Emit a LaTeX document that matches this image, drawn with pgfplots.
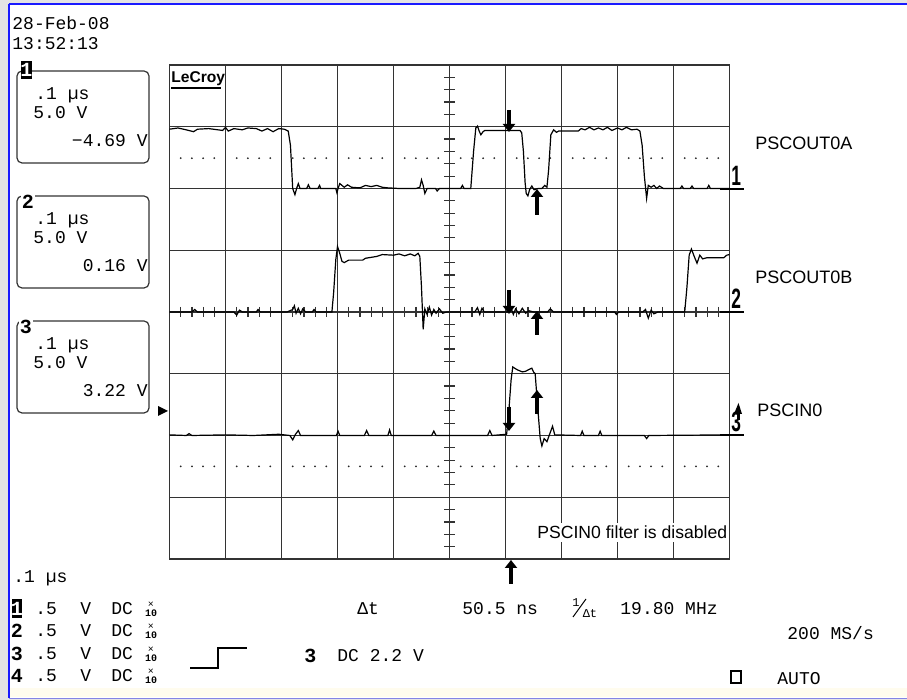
\documentclass[border=0pt]{standalone}
\usepackage{fontspec}
\usepackage{graphicx}
\usepackage{pgfplots}
\usepackage{pgfplotstable}
\pgfplotsset{compat=1.18}
\usetikzlibrary{arrows.meta}
\setmainfont{Liberation Mono}
\newfontfamily\sansf{Liberation Sans}
\definecolor{framegray}{HTML}{E4E4E4}
\definecolor{frameblue}{HTML}{1A1AFF}
\definecolor{botblue}{HTML}{8484E6}
\definecolor{cream}{HTML}{FFFCEE}
\definecolor{gridc}{HTML}{333333}

\pgfplotstableread{
x y
0 6.96
0.15 6.98
0.3 6.95
0.43 6.92
0.5 6.96
0.7 6.97
0.95 6.94
1.0 6.99
1.05 6.93
1.15 6.97
1.3 6.95
1.4 6.98
1.55 6.97
1.65 6.93
1.75 6.97
1.85 6.92
1.95 6.97
2.05 6.96
2.12 6.93
2.16 6.7
2.2 6.0
2.24 5.9
2.27 6.0
2.3 6.08
2.33 6.0
2.45 6.0
2.48 6.06
2.51 6.0
2.65 6.0
2.68 6.05
2.7 6.0
2.97 6.0
2.99 5.93
3.01 6.0
3.04 6.08
3.08 6.05
3.12 6.02
3.18 6.06
3.25 6.02
3.4 6.01
3.5 6.05
3.6 6.03
3.7 6.05
3.8 6.02
3.9 6.01
4.1 6.0
4.4 6.0
4.47 6.02
4.5 6.14
4.53 6.05
4.56 5.92
4.6 6.0
4.75 6.0
4.78 5.96
4.82 6.0
5.2 6.0
5.23 6.05
5.26 6.0
5.38 6.0
5.43 6.6
5.47 6.98
5.5 7.01
5.53 6.93
5.56 6.87
5.6 6.92
5.63 6.94
6.26 6.94
6.29 6.9
6.32 6.6
6.35 6.1
6.37 5.92
6.4 5.88
6.43 5.98
6.47 6.04
6.51 5.98
6.58 6.0
6.65 6.0
6.7 6.05
6.74 6.02
6.77 6.3
6.81 6.87
6.86 6.95
6.91 6.91
6.95 6.93
7.3 6.93
7.35 6.97
7.42 6.95
7.5 6.99
7.58 6.95
7.66 6.98
7.74 6.95
7.82 6.99
7.9 6.94
8.0 6.98
8.08 6.95
8.16 6.99
8.25 6.95
8.35 6.96
8.4 6.93
8.44 6.7
8.48 6.2
8.52 5.84
8.55 6.05
8.6 6.02
8.65 6.05
8.7 6.0
8.75 6.04
8.82 6.0
8.9 6.0
9.12 6.0
9.15 6.04
9.18 6.0
9.3 6.0
9.33 6.04
9.36 6.0
9.6 6.0
9.63 6.05
9.66 6.0
10 6.0
}\chA

\pgfplotstableread{
x y
0 4.0
0.4 4.0
0.45 4.04
0.5 4.0
1.15 4.0
1.2 3.95
1.25 4.03
1.3 4.0
1.55 4.0
1.58 4.04
1.62 4.0
2.1 4.0
2.2 4.04
2.23 4.1
2.26 3.98
2.3 4.06
2.34 3.97
2.38 4.05
2.43 4.0
2.55 4.0
2.58 4.04
2.62 4.0
2.9 4.0
2.93 4.3
2.97 4.85
3.0 5.06
3.04 4.95
3.08 4.82
3.12 4.8
3.2 4.84
3.45 4.84
3.5 4.87
3.7 4.9
3.8 4.93
4.0 4.92
4.1 4.94
4.2 4.91
4.3 4.94
4.38 4.91
4.44 4.95
4.47 4.9
4.5 4.4
4.53 3.72
4.56 4.05
4.6 3.96
4.64 4.08
4.68 3.95
4.72 4.04
4.76 3.98
4.82 4.05
4.88 3.98
4.95 4.0
5.45 4.0
5.5 4.07
5.54 3.96
5.58 4.06
5.62 4.0
6.05 4.0
6.1 4.06
6.14 3.96
6.18 4.05
6.24 3.97
6.3 4.06
6.36 3.98
6.42 4.02
6.5 4.0
6.75 4.0
6.8 4.05
6.86 4.0
7.95 4.0
7.98 3.96
8.02 4.0
8.45 4.0
8.5 4.04
8.55 3.9
8.6 4.03
8.65 3.97
8.72 4.0
9.2 4.0
9.24 4.4
9.28 4.92
9.32 5.02
9.37 4.9
9.42 4.79
9.47 4.92
9.52 4.86
9.6 4.88
9.9 4.88
9.95 4.92
10 4.93
}\chB

\pgfplotstableread{
x y
0 2.01
0.3 2.0
0.35 2.03
0.4 2.0
1.0 2.01
1.5 2.0
1.95 2.02
2.15 2.0
2.2 1.93
2.25 2.02
2.3 2.08
2.34 2.0
2.98 2.0
3.01 2.07
3.04 2.0
3.48 2.0
3.52 2.08
3.56 2.0
3.9 2.0
3.93 2.09
3.96 2.0
4.68 2.0
4.72 2.07
4.76 2.0
5.68 2.0
5.72 2.08
5.76 2.0
6.02 2.02
6.06 2.4
6.1 2.9
6.13 3.11
6.18 3.08
6.22 3.06
6.3 3.03
6.36 3.04
6.42 3.07
6.47 3.09
6.5 3.03
6.53 3.0
6.58 2.4
6.62 1.95
6.65 1.83
6.69 1.95
6.74 1.9
6.8 2.05
6.84 2.15
6.88 2.01
7.34 2.0
7.37 2.07
7.4 2.0
7.66 2.0
7.69 2.07
7.72 2.0
8.48 2.0
8.52 1.95
8.56 2.0
10 2.01
}\chC

\newcommand{\mf}{\fontsize{9}{9}\selectfont}
\begin{document}
\begin{tikzpicture}
\useasboundingbox (0,0) rectangle (453.5pt,350pt);
\fill[framegray] (0,0) rectangle (453.5pt,350pt);
\begin{scope}[x=0.5pt,y=-0.5pt,yshift=350pt]
  \fill[white] (9,5) rectangle (907,698);
  \fill[cream] (9,688) rectangle (907,697.5);
  \draw[frameblue,line width=1pt] (8.5,4) -- (907,4);
  \draw[frameblue,line width=0.7pt] (9,4) -- (9,698);
  \draw[botblue,line width=0.8pt] (9,698.5) -- (907,698.5);
  % graticule: center line ticks
  \foreach \k in {1,...,39} {
    \draw[gridc,line width=0.6pt] (444,{559-\k*12.35}) -- (455,{559-\k*12.35});
  }
  \foreach \k in {1,...,49} {
    \draw[gridc,line width=0.6pt] ({169.5+\k*11.2},307) -- ({169.5+\k*11.2},317);
  }
  % dotted reference lines
  \foreach \i in {0,...,9} {
    \foreach \j in {1,...,4} {
      \fill[black!85] ({169.5+(\i+0.2*\j)*56},158.2) circle (1);
      \fill[black!85] ({169.5+(\i+0.2*\j)*56},466.4) circle (1);
    }
  }
\end{scope}

\begin{axis}[at={(84.75pt,70.5pt)}, anchor=south west, scale only axis,
  width=280pt, height=247pt, xmin=0, xmax=10, ymin=0, ymax=8,
  xtick={0,...,10}, ytick={0,...,8}, xticklabels={}, yticklabels={},
  major tick length=0pt, grid=major,
  major grid style={gridc, line width=0.7pt},
  axis line style={gridc, line width=0.7pt}]
  \addplot[black, line width=0.6pt, mark=none] table {\chA};
  \addplot[black, line width=0.6pt, mark=none] table {\chB};
  \addplot[black, line width=0.6pt, mark=none] table {\chC};
\end{axis}

\begin{scope}[x=0.5pt,y=-0.5pt,yshift=350pt]
  % cursor arrows
  \tikzset{cur/.style={line width=2pt, -{Triangle[width=6pt,length=4pt]}}}
  \draw[cur] (509,110) -- (509,132);
  \draw[cur] (537,215) -- (537,189);
  \draw[cur] (509,290) -- (509,314);
  \draw[cur] (537,335) -- (537,311);
  \draw[cur] (509,407) -- (509,431);
  \draw[cur] (537,414) -- (537,390);
  \draw[cur] (511,584) -- (511,560);
  % trigger level marker left
  \fill (158,406) -- (168,411) -- (158,416) -- cycle;
  % right channel markers
  \foreach \yy/\d in {189/1,312/2,435/3} {
    \draw[line width=1pt] (720,\yy) -- (744,\yy);
    \node[anchor=base west, inner sep=0pt, font=\sansf\bfseries\fontsize{14}{14}\selectfont] at (731,\yy-3) {\scalebox{0.62}[1]{\d}};
  }
  \fill (734,414) -- (738.5,403) -- (742,414) -- cycle;
  \draw[line width=1.2pt] (738.5,412) -- (738.5,420);
  % trace labels
  \node[anchor=base west, inner sep=0pt, font=\sansf\fontsize{9}{9}\selectfont] at (755,150) {PSCOUT0A};
  \node[anchor=base west, inner sep=0pt, font=\sansf\fontsize{9}{9}\selectfont] at (755,284) {PSCOUT0B};
  \node[anchor=base west, inner sep=0pt, font=\sansf\fontsize{9}{9}\selectfont] at (757,417) {PSCIN0};
  \node[anchor=base west, fill=white, inner xsep=0.5pt, inner ysep=1.5pt, font=\sansf\fontsize{8.8}{9}\selectfont] at (536,539) {PSCIN0 filter is disabled};
  % LeCroy logo
  \node[anchor=base west, inner sep=0pt, font=\sansf\bfseries\fontsize{7.8}{8}\selectfont] at (171,83) {LeCroy};
  \draw[line width=1pt] (171,88.5) -- (221,88.5);
  % date / time
  \node[anchor=base west, inner sep=0pt, font=\mf] at (12,30) {28-Feb-08};
  \node[anchor=base west, inner sep=0pt, font=\mf] at (12,50) {13:52:13};
  % channel boxes
  \foreach \t/\v in {71/{−4.69 V},196/{0.16 V},321/{3.22 V}} {
    \draw[black!80, line width=0.6pt, rounded corners=2.5pt] (17,\t) rectangle (149,\t+92);
    \node[anchor=base west, inner sep=0pt, font=\mf] at (35,\t+29) {.1 µs};
    \node[anchor=base west, inner sep=0pt, font=\mf] at (33,\t+48) {5.0 V};
    \node[anchor=base east, inner sep=0pt, font=\mf] at (148,\t+76) {\v};
  }
  \fill[black] (21,61) rectangle (32,79);
  \node[white, inner sep=0pt, font=\bfseries\fontsize{10}{10}\selectfont] at (26.5,70) {1};
  \node[fill=white, inner sep=0.6pt, font=\bfseries\fontsize{10}{10}\selectfont] at (28,201.5) {2};
  \node[fill=white, inner sep=0.6pt, font=\bfseries\fontsize{10}{10}\selectfont] at (26,326.5) {3};
  % bottom status
  \node[anchor=base west, inner sep=0pt, font=\mf] at (13,583) {.1 µs};
  \fill[black] (12,599) rectangle (22,618);
  \node[white, inner sep=0pt, font=\bfseries\fontsize{10}{10}\selectfont] at (17,609) {1};
  \node[inner sep=0pt, font=\bfseries\fontsize{10}{10}\selectfont] at (17,631) {2};
  \node[inner sep=0pt, font=\bfseries\fontsize{10}{10}\selectfont] at (17,654) {3};
  \node[inner sep=0pt, font=\bfseries\fontsize{10}{10}\selectfont] at (17,676) {4};
  \foreach \b in {615,637,660,682} {
    \node[anchor=base west, inner sep=0pt, font=\mf] at (35,\b) {.5};
    \node[anchor=base west, inner sep=0pt, font=\mf] at (80,\b) {V};
    \node[anchor=base west, inner sep=0pt, font=\mf] at (111,\b) {DC};
    \node[inner sep=0pt, font=\fontsize{5}{5}\selectfont] at (151,\b-10) {×};
    \node[inner sep=0pt, font=\bfseries\fontsize{5}{5}\selectfont] at (151,\b-2) {10};
  }
  \node[anchor=base west, inner sep=0pt, font=\mf] at (357,615) {Δt};
  \node[anchor=base west, inner sep=0pt, font=\mf] at (462,615) {50.5 ns};
  \node[inner sep=0pt, font=\fontsize{6}{6}\selectfont] at (576,602.5) {1};
  \draw[line width=0.5pt] (573,617) -- (586,599);
  \node[inner sep=0pt, font=\fontsize{6}{6}\selectfont] at (590,613.5) {Δt};
  \node[anchor=base west, inner sep=0pt, font=\mf] at (620,615) {19.80 MHz};
  \node[anchor=base west, inner sep=0pt, font=\mf] at (787,640) {200 MS/s};
  \draw[line width=0.8pt] (190,668) -- (218,668) -- (218,648) -- (247,648);
  \node[anchor=base west, inner sep=0pt, font=\bfseries\fontsize{10}{10}\selectfont] at (304,663) {3};
  \node[anchor=base west, inner sep=0pt, font=\mf] at (337,662) {DC 2.2 V};
  \draw[line width=0.6pt] (731,671) rectangle (741,683);
  \node[anchor=base west, inner sep=0pt, font=\mf] at (777,685) {AUTO};
\end{scope}
\end{tikzpicture}
\end{document}
